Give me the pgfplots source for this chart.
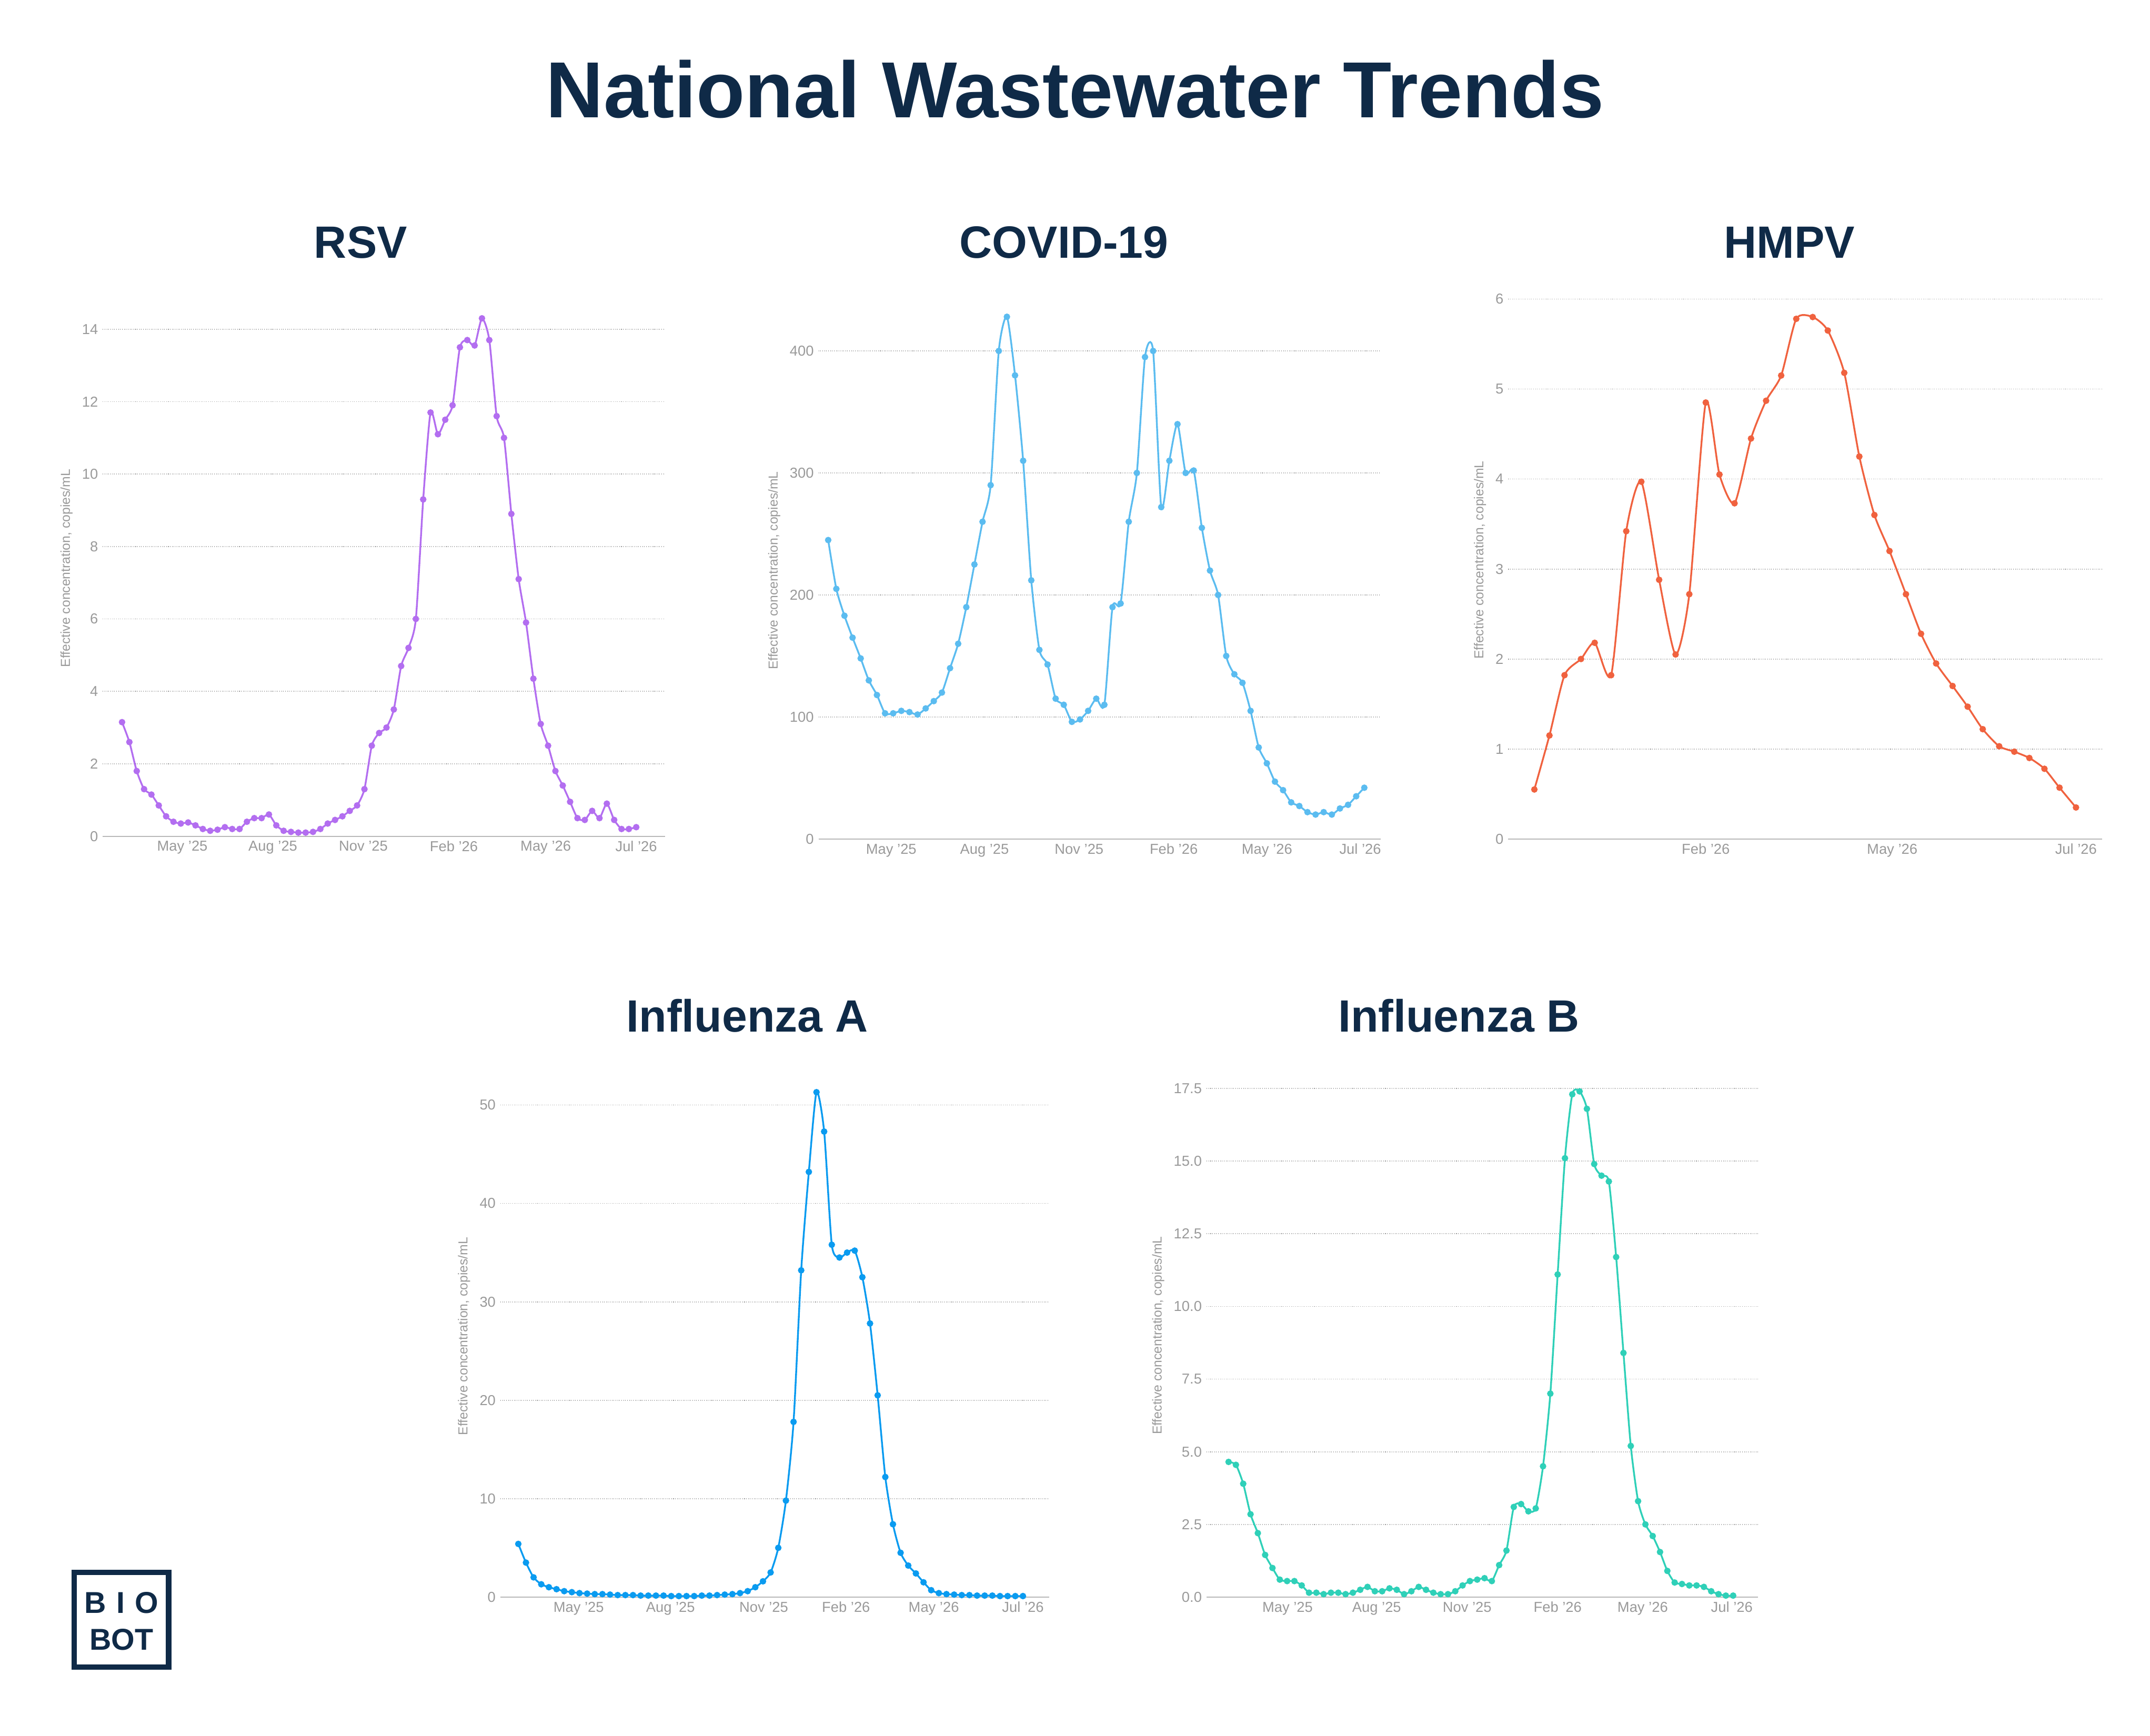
\documentclass[border=0pt]{standalone}
\usepackage{pgfplots}
\usepackage{pgfplotstable}
\pgfplotsset{compat=1.18}
\usepackage{fontspec}
\setmainfont{Liberation Sans}
\definecolor{navy}{HTML}{0F2A47}
\definecolor{rsv}{HTML}{B36EF0}
\definecolor{cov}{HTML}{5BBCF0}
\definecolor{hmpv}{HTML}{F0623F}
\definecolor{flua}{HTML}{0A9BF0}
\definecolor{flub}{HTML}{2FD0B8}
\definecolor{tgray}{HTML}{9A9A9A}

\pgfplotstableread{
y
3.15
2.6
1.8
1.3
1.15
0.85
0.55
0.4
0.35
0.38
0.3
0.2
0.15
0.18
0.25
0.2
0.2
0.4
0.5
0.5
0.6
0.3
0.15
0.12
0.1
0.1
0.12
0.2
0.35
0.45
0.55
0.7
0.85
1.3
2.5
2.85
3.0
3.5
4.7
5.2
6.0
9.3
11.7
11.1
11.5
11.9
13.5
13.7
13.55
14.3
13.7
11.6
11.0
8.9
7.1
5.9
4.35
3.1
2.5
1.8
1.4
0.95
0.5
0.45
0.7
0.5
0.9
0.45
0.2
0.2
0.25
}\rsvdata

\pgfplotstableread{
y
245
205
183
165
148
130
118
103
103
105
104
102
107
113
120
140
160
190
225
260
290
400
428
380
310
212
155
143
115
110
96
98
105
115
110
190
193
260
300
395
400
272
310
340
300
302
255
220
200
150
135
128
105
75
62
47
40
30
27
22
20
22
20
25
28
35
42
}\covdata

\pgfplotstableread{
y
5.4
3.5
2.0
1.3
1.0
0.8
0.6
0.5
0.4
0.35
0.3
0.3
0.25
0.2
0.2
0.2
0.15
0.15
0.15
0.15
0.1
0.1
0.1
0.1
0.15
0.15
0.2
0.25
0.3
0.4
0.6
1.0
1.6
2.5
5.0
9.8
17.8
33.2
43.2
51.3
47.3
35.8
34.5
35.0
35.2
32.5
27.8
20.5
12.2
7.4
4.5
3.2
2.4
1.5
0.7
0.4
0.3
0.25
0.2
0.2
0.15
0.15
0.15
0.1
0.1
0.1
0.1
}\fluadata

\pgfplotstableread{
y
4.65
4.55
3.9
2.85
2.2
1.45
1.0
0.6
0.55
0.55
0.4
0.15
0.15
0.1
0.15
0.15
0.1
0.15
0.25
0.35
0.2
0.2
0.3
0.25
0.1
0.2
0.35
0.25
0.15
0.1
0.1
0.2
0.4
0.55
0.6
0.65
0.55
1.1
1.6
3.1
3.2
2.95
3.05
4.5
7.0
11.1
15.1
17.3
17.4
16.8
14.9
14.5
14.3
11.7
8.4
5.2
3.3
2.5
2.1
1.55
0.9
0.5
0.45
0.4
0.4
0.35
0.2
0.1
0.05
0.05
}\flubdata

\pgfplotsset{
  panel/.style={
    scale only axis,
    anchor=south west,
    axis x line*=bottom,
    axis y line*=left,
    y axis line style={draw=none},
    x axis line style={draw=tgray!70, line width=0.8pt},
    major tick length=0pt,
    ymajorgrids,
    grid style={densely dotted, draw=tgray, line width=0.7pt},
    ymin=0,
    tick label style={font=\fontsize{10.5}{12}\selectfont, text=tgray},
    /pgf/number format/assume math mode=true,
    ylabel={Effective concentration, copies/mL},
    ylabel style={font=\fontsize{9.5}{11}\selectfont, text=tgray},
    xtick pos=bottom,
    clip=false,
  },
  ser/.style={color=#1, line width=1.3pt, smooth, tension=0.4, mark=*, mark size=1.7pt, mark options={fill=#1, draw=#1}},
}

\begin{document}
\begin{tikzpicture}
\fill[white] (0pt,0pt) rectangle (1568pt,-1266pt);
\node[font=\bfseries\fontsize{58}{62}\selectfont, text=navy] at (784pt,-65pt) {National Wastewater Trends};
\foreach \t/\x/\y in {RSV/263/177, COVID-19/776/177, HMPV/1305/177, Influenza A/545/741, Influenza B/1064/741}
  \node[font=\bfseries\fontsize{33}{36}\selectfont, text=navy] at (\x pt,-\y pt) {\t};

% RSV
\begin{axis}[panel, at={(75pt,-610pt)}, width=410pt, height=391pt,
  xmin=75, xmax=485, ymax=14.8, ytick={0,2,...,14},
  xtick={133,199,265,331,398,464},
  xticklabels={May '25,Aug '25,Nov '25,Feb '26,May '26,Jul '26}]
\addplot[ser=rsv] table[x expr=89+\coordindex*5.357, y=y] {\rsvdata};
\end{axis}

% COVID
\begin{axis}[panel, at={(597pt,-612pt)}, width=410pt, height=391.6pt,
  xmin=597, xmax=1007, ymax=440, ytick={0,100,...,400},
  xtick={650,718,787,856,924,992},
  xticklabels={May '25,Aug '25,Nov '25,Feb '26,May '26,Jul '26}]
\addplot[ser=cov] table[x expr=604+\coordindex*5.924, y=y] {\covdata};
\end{axis}

% HMPV
\begin{axis}[panel, at={(1100pt,-612pt)}, width=433pt, height=407pt,
  xmin=1100, xmax=1533, ymax=6.2, ytick={0,1,...,6},
  xtick={1244,1380,1514},
  xticklabels={Feb '26,May '26,Jul '26}]
\addplot[ser=hmpv] coordinates {
(1119,0.55)(1130,1.15)(1141,1.82)(1153,2.0)(1163,2.18)(1175,1.82)(1186,3.42)(1197,3.97)(1210,2.88)(1222,2.05)(1232,2.72)(1244,4.85)(1254,4.05)(1265,3.73)(1277,4.45)(1288,4.87)(1299,5.15)(1310,5.78)(1322,5.8)(1333,5.65)(1345,5.18)(1356,4.25)(1367,3.6)(1378,3.2)(1390,2.72)(1401,2.28)(1412,1.95)(1424,1.7)(1435,1.47)(1446,1.22)(1458,1.03)(1469,0.97)(1480,0.9)(1491,0.78)(1502,0.57)(1514,0.35)};
\end{axis}

% Flu A
\begin{axis}[panel, at={(365pt,-1165pt)}, width=400pt, height=380.5pt,
  xmin=365, xmax=765, ymax=53, ytick={0,10,...,50},
  xtick={422,489,557,617,681,746},
  xticklabels={May '25,Aug '25,Nov '25,Feb '26,May '26,Jul '26}]
\addplot[ser=flua] table[x expr=378+\coordindex*5.576, y=y] {\fluadata};
\end{axis}

% Flu B
\begin{axis}[panel, at={(880pt,-1165pt)}, width=402pt, height=381.6pt,
  xmin=880, xmax=1282, ymax=18, ytick={0,2.5,...,17.5},
  yticklabel style={/pgf/number format/.cd, fixed, fixed zerofill, precision=1},
  xtick={939,1004,1070,1136,1198,1263},
  xticklabels={May '25,Aug '25,Nov '25,Feb '26,May '26,Jul '26}]
\addplot[ser=flub] table[x expr=896+\coordindex*5.333, y=y] {\flubdata};
\end{axis}

% logo
\draw[navy, line width=4pt] (54pt,-1147pt) rectangle (123pt,-1216pt);
\node[font=\bfseries\fontsize{22}{24}\selectfont, text=navy] at (88.5pt,-1169pt) {B\,\,I\,\,O};
\node[font=\bfseries\fontsize{22}{24}\selectfont, text=navy] at (88.5pt,-1196pt) {BOT};
\end{tikzpicture}
\end{document}
